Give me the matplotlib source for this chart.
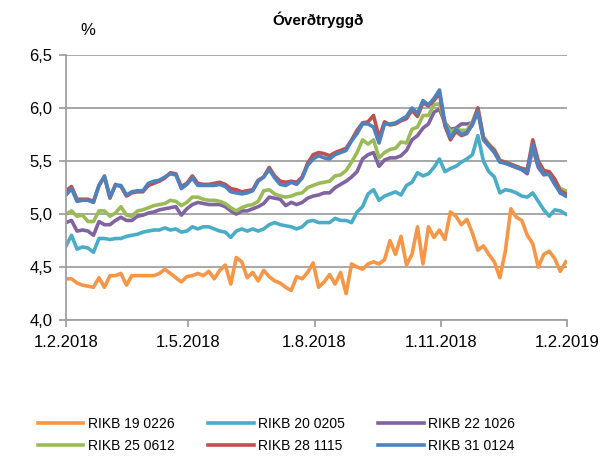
import pandas as pd
import matplotlib.pyplot as plt

plt.rcParams['font.family'] = ['Liberation Sans', 'DejaVu Sans']

# yields, one value every 4 days from 1.2.2018
dates = pd.date_range("2018-02-01", periods=92, freq="4D")

rikb19 = [4.39, 4.39, 4.35, 4.33, 4.32, 4.31, 4.40, 4.31, 4.42, 4.42,
          4.44, 4.33, 4.42, 4.42, 4.42, 4.42, 4.42, 4.44, 4.48, 4.44,
          4.40, 4.36, 4.41, 4.42, 4.44, 4.42, 4.46, 4.39, 4.47, 4.52,
          4.34, 4.59, 4.55, 4.40, 4.45, 4.37, 4.47, 4.41, 4.37, 4.35,
          4.31, 4.28, 4.41, 4.39, 4.45, 4.54, 4.31, 4.36, 4.43, 4.34,
          4.45, 4.25, 4.53, 4.50, 4.48, 4.53, 4.55, 4.53, 4.57, 4.75,
          4.62, 4.79, 4.52, 4.62, 4.88, 4.53, 4.88, 4.78, 4.85, 4.76,
          5.02, 4.98, 4.90, 4.95, 4.82, 4.66, 4.70, 4.62, 4.55, 4.40,
          4.65, 5.05, 4.97, 4.94, 4.80, 4.72, 4.50, 4.62, 4.65, 4.58,
          4.46, 4.55]
rikb20 = [4.70, 4.80, 4.67, 4.69, 4.68, 4.64, 4.77, 4.77, 4.76, 4.77,
          4.77, 4.79, 4.80, 4.81, 4.83, 4.84, 4.85, 4.85, 4.87, 4.85,
          4.86, 4.83, 4.84, 4.88, 4.86, 4.88, 4.88, 4.86, 4.84, 4.83,
          4.78, 4.84, 4.86, 4.84, 4.86, 4.84, 4.86, 4.90, 4.92, 4.90,
          4.89, 4.88, 4.86, 4.88, 4.93, 4.94, 4.92, 4.92, 4.92, 4.96,
          4.94, 4.94, 4.92, 5.02, 5.07, 5.19, 5.23, 5.13, 5.17, 5.19,
          5.21, 5.18, 5.27, 5.30, 5.39, 5.36, 5.38, 5.44, 5.52, 5.40,
          5.43, 5.45, 5.49, 5.52, 5.56, 5.74, 5.50, 5.40, 5.35, 5.20,
          5.23, 5.22, 5.20, 5.17, 5.16, 5.20, 5.12, 5.04, 4.98, 5.04,
          5.03, 5.00]
rikb22 = [4.92, 4.94, 4.84, 4.85, 4.84, 4.80, 4.93, 4.90, 4.90, 4.94,
          4.97, 4.94, 4.94, 4.98, 4.99, 5.01, 5.02, 5.04, 5.05, 5.06,
          5.07, 4.99, 5.05, 5.09, 5.11, 5.10, 5.09, 5.09, 5.09, 5.07,
          5.03, 5.00, 5.03, 5.03, 5.05, 5.07, 5.10, 5.16, 5.15, 5.14,
          5.08, 5.11, 5.09, 5.11, 5.15, 5.17, 5.18, 5.20, 5.20, 5.25,
          5.28, 5.31, 5.35, 5.40, 5.52, 5.56, 5.58, 5.45, 5.51, 5.53,
          5.53, 5.55, 5.60, 5.70, 5.74, 5.81, 5.85, 5.96, 5.99, 5.86,
          5.80, 5.81, 5.85, 5.85, 5.86, 5.96, 5.72, 5.65, 5.59, 5.50,
          5.48, 5.46, 5.44, 5.42, 5.38, 5.62, 5.44, 5.37, 5.38, 5.30,
          5.20, 5.18]
rikb25 = [5.00, 5.03, 4.98, 4.99, 4.93, 4.93, 5.03, 5.03, 4.98, 5.01,
          5.07, 4.99, 4.98, 5.03, 5.04, 5.06, 5.08, 5.09, 5.10, 5.13,
          5.12, 5.08, 5.11, 5.16, 5.16, 5.14, 5.13, 5.13, 5.12, 5.10,
          5.06, 5.03, 5.06, 5.08, 5.09, 5.12, 5.22, 5.23, 5.19, 5.17,
          5.16, 5.17, 5.19, 5.20, 5.25, 5.27, 5.29, 5.30, 5.31, 5.36,
          5.37, 5.41, 5.49, 5.58, 5.70, 5.66, 5.70, 5.53, 5.58, 5.61,
          5.62, 5.68, 5.67, 5.80, 5.82, 5.93, 5.93, 6.03, 6.04, 5.86,
          5.78, 5.80, 5.79, 5.79, 5.87, 6.00, 5.73, 5.66, 5.61, 5.51,
          5.49, 5.47, 5.45, 5.43, 5.41, 5.65, 5.49, 5.41, 5.39, 5.32,
          5.24, 5.22]
rikb28 = [5.22, 5.26, 5.14, 5.14, 5.14, 5.12, 5.27, 5.35, 5.15, 5.28,
          5.26, 5.17, 5.20, 5.21, 5.21, 5.27, 5.29, 5.31, 5.34, 5.39,
          5.38, 5.26, 5.29, 5.36, 5.29, 5.28, 5.28, 5.29, 5.30, 5.28,
          5.24, 5.23, 5.21, 5.22, 5.23, 5.32, 5.35, 5.44, 5.36, 5.31,
          5.30, 5.31, 5.30, 5.35, 5.48, 5.56, 5.58, 5.57, 5.55, 5.58,
          5.60, 5.62, 5.70, 5.79, 5.86, 5.87, 5.93, 5.72, 5.87, 5.84,
          5.85, 5.88, 5.90, 5.98, 5.92, 6.05, 6.02, 6.07, 6.14, 5.83,
          5.70, 5.78, 5.74, 5.76, 5.85, 6.00, 5.72, 5.65, 5.60, 5.50,
          5.49, 5.47, 5.45, 5.43, 5.42, 5.70, 5.50, 5.41, 5.40, 5.33,
          5.22, 5.19]
rikb31 = [5.18, 5.24, 5.12, 5.13, 5.13, 5.11, 5.27, 5.36, 5.16, 5.27,
          5.27, 5.18, 5.21, 5.22, 5.22, 5.29, 5.31, 5.32, 5.35, 5.38,
          5.37, 5.24, 5.28, 5.34, 5.27, 5.27, 5.27, 5.27, 5.28, 5.26,
          5.21, 5.20, 5.19, 5.20, 5.22, 5.31, 5.35, 5.42, 5.34, 5.28,
          5.27, 5.30, 5.28, 5.34, 5.46, 5.52, 5.55, 5.53, 5.52, 5.56,
          5.58, 5.60, 5.69, 5.76, 5.85, 5.85, 5.82, 5.67, 5.85, 5.85,
          5.86, 5.89, 5.92, 6.00, 5.95, 6.07, 6.03, 6.09, 6.17, 5.86,
          5.72, 5.80, 5.75, 5.77, 5.84, 5.97, 5.70, 5.64, 5.58, 5.49,
          5.48, 5.46, 5.44, 5.42, 5.40, 5.66, 5.46, 5.38, 5.37, 5.28,
          5.20, 5.17]

names = ["RIKB 19 0226", "RIKB 20 0205", "RIKB 22 1026",
         "RIKB 25 0612", "RIKB 28 1115", "RIKB 31 0124"]
colors = ["#F79646", "#4BACC6", "#8064A2", "#9BBB59", "#C0504D", "#4F81BD"]
series = [rikb19, rikb20, rikb22, rikb25, rikb28, rikb31]

tick_dates = pd.to_datetime(["2018-02-01", "2018-05-01", "2018-08-01",
                             "2018-11-01", "2019-02-01"])
tick_labels = ["1.2.2018", "1.5.2018", "1.8.2018", "1.11.2018", "1.2.2019"]
y_ticks = [4.0, 4.5, 5.0, 5.5, 6.0, 6.5]
y_labels = ["4,0", "4,5", "5,0", "5,5", "6,0", "6,5"]

fig = plt.figure(figsize=(6.03, 4.62), dpi=100)
ax = fig.add_axes([0.1095, 0.307, 0.831, 0.574])

lines = []
for vals, name, c in zip(series, names, colors):
    ln, = ax.plot(dates, vals, color=c, lw=2.6, label=name, solid_joinstyle='round')
    lines.append(ln)

grid_c = "#A0A0A0"
ax.set_ylim(4.0, 6.5)
ax.set_xlim(tick_dates[0], tick_dates[-1])
ax.set_yticks(y_ticks)
ax.set_yticklabels(y_labels, fontsize=12)
ax.set_xticks(tick_dates)
ax.set_xticklabels(tick_labels, fontsize=12)
ax.yaxis.grid(True, color=grid_c, lw=1.3)
ax.set_axisbelow(True)
for s in ["top", "right"]:
    ax.spines[s].set_visible(False)
for s in ["left", "bottom"]:
    ax.spines[s].set_color(grid_c)
    ax.spines[s].set_linewidth(1.3)
ax.tick_params(axis='y', length=5, color=grid_c, width=1.3, pad=5)
ax.tick_params(axis='x', length=5, color=grid_c, width=1.3, pad=6)

fig.text(0.527, 0.958, "Óverðtryggð", ha='center', va='center',
         fontsize=11, fontweight='bold')
fig.text(0.146, 0.935, "%", ha='center', va='center', fontsize=12)

# legend fills column-wise, so reorder to get row-wise layout
order = [0, 3, 1, 4, 2, 5]
fig.legend([lines[i] for i in order], [names[i] for i in order],
           loc='lower center', bbox_to_anchor=(0.458, -0.008), ncol=3,
           frameon=False, fontsize=10, handlelength=3.3, handletextpad=0.3,
           columnspacing=2.4, labelspacing=0.6)

fig.savefig("out.png", dpi=100)
